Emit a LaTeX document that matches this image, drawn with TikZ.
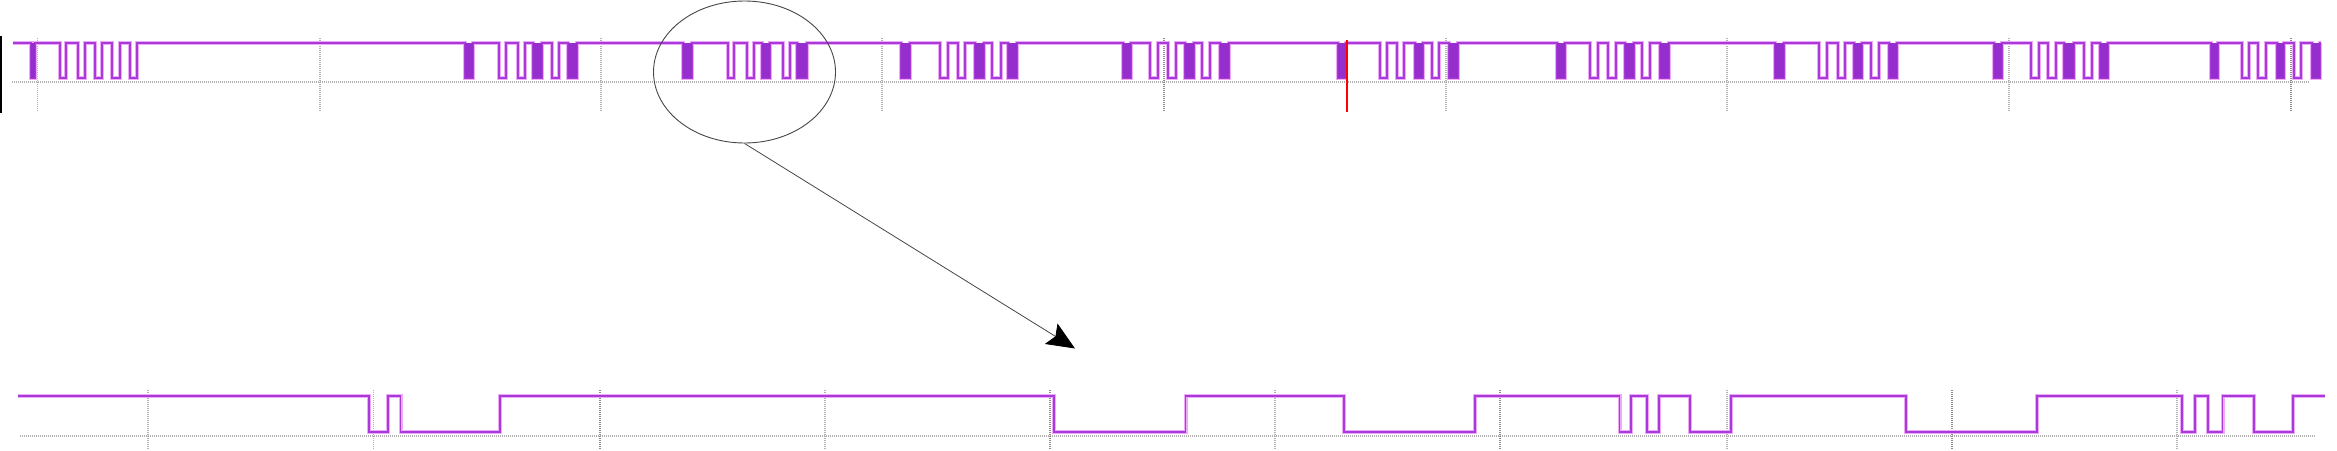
\documentclass[tikz,border=0pt]{standalone}
\usetikzlibrary{arrows.meta,shapes.geometric}
\definecolor{wave}{RGB}{168,58,218}
\definecolor{wavehalo}{RGB}{238,170,248}
\definecolor{wavedense}{RGB}{150,45,205}
\definecolor{gridgrey}{RGB}{178,178,178}
\definecolor{griddark}{RGB}{140,140,140}
\definecolor{ringgrey}{RGB}{70,70,70}
\def\toplows{31/35,60/66,78/85,95/102,112/120,130/137,
	465/473,499/506,518/525,533/542,552/559,568/577,
	683/692,728/734,747/754,762/770,783/790,797/807,
	901/910,940/948,958/965,975/984,992/1001,1008/1017,
	1123/1131,1150/1158,1168/1176,1185/1194,1202/1210,1220/1229,
	1338/1346,1380/1387,1397/1404,1415/1423,1432/1439,1449/1458,
	1557/1565,1590/1598,1608/1616,1625/1634,1642/1650,1660/1669,
	1775/1784,1819/1827,1838/1845,1854/1862,1871/1879,1889/1897,
	1994/2002,2031/2039,2048/2056,2064/2074,2084/2092,2100/2108,
	2211/2218,2242/2249,2258/2266,2277/2284,2294/2301,2312/2320}
\def\topdense{31/35,465/473,533/542,568/577,683/692,762/770,797/807,
	901/910,975/984,1008/1017,1123/1131,1185/1194,1220/1229,
	1338/1346,1415/1423,1449/1458,1557/1565,1625/1634,1660/1669,
	1775/1784,1854/1862,1889/1897,1994/2002,2064/2074,2100/2108,
	2211/2218,2277/2284,2312/2320}
\def\zoomlows{369/388,400.5/500,1054/1185.5,1344/1475,1619.5/1631,1647/1659,
	1690/1731,1906/2037,2182/2195,2208/2222.5,2254/2293}
\begin{document}
\begin{tikzpicture}[x=1pt,y=-1pt]
	\tikzset{halo/.style={draw=wavehalo,line width=4pt},
		trace/.style={draw=wave,line width=1.6pt},
		gridline/.style={draw=gridgrey,line width=1.8pt,dash pattern=on 1pt off 1pt},
		gridmajor/.style={gridline,draw=griddark}}
	\useasboundingbox (0,0) rectangle (2337,450);
	
	\draw[black,line width=2.5pt] (1,36) -- (1,113);
	\draw[gridline] (12,82) -- (2310,82);
	\foreach \x in {37.5,320,601,882,1446,1727,2009}
		\draw[gridline] (\x,38) -- (\x,112);
	\foreach \x in {1164,2291}
		\draw[gridmajor] (\x,38) -- (\x,112);
	
	\draw[gridline] (20,436) -- (2316,436);
	\foreach \x in {148,373.5,825,1275,1727,2177}
		\draw[gridline] (\x,390) -- (\x,450);
	\foreach \x in {600,1050,1500,1952}
		\draw[gridmajor] (\x,390) -- (\x,450);
	
	\foreach \s in {halo,trace}
		\draw[\s] (13,43) foreach \a/\b in \toplows {-- (\a,43) -- (\a,78) -- (\b,78) -- (\b,43)} -- (2321,43);
	\foreach \a/\b in \topdense
		\fill[wavedense] (\a,43) rectangle (\b,78);
	
	\foreach \s in {halo,trace}
		\draw[\s] (18,396) foreach \a/\b in \zoomlows {-- (\a,396) -- (\a,432) -- (\b,432) -- (\b,396)} -- (2325,396);
	
	\draw[red,line width=2pt] (1346.7,40) -- (1346.7,112);
	
	\node[shape=ellipse,draw=ringgrey,line width=0.9pt,inner sep=0pt,minimum width=182pt,minimum height=142pt] (zoomring) at (744.5,72) {};
	\coordinate (zoomtip) at (1075,348.5);
	\draw[ringgrey,line width=0.8pt,-{Stealth[length=28pt,width=24pt,inset=5pt,black]}] (zoomring.south) -- (zoomtip);
\end{tikzpicture}
\end{document}
